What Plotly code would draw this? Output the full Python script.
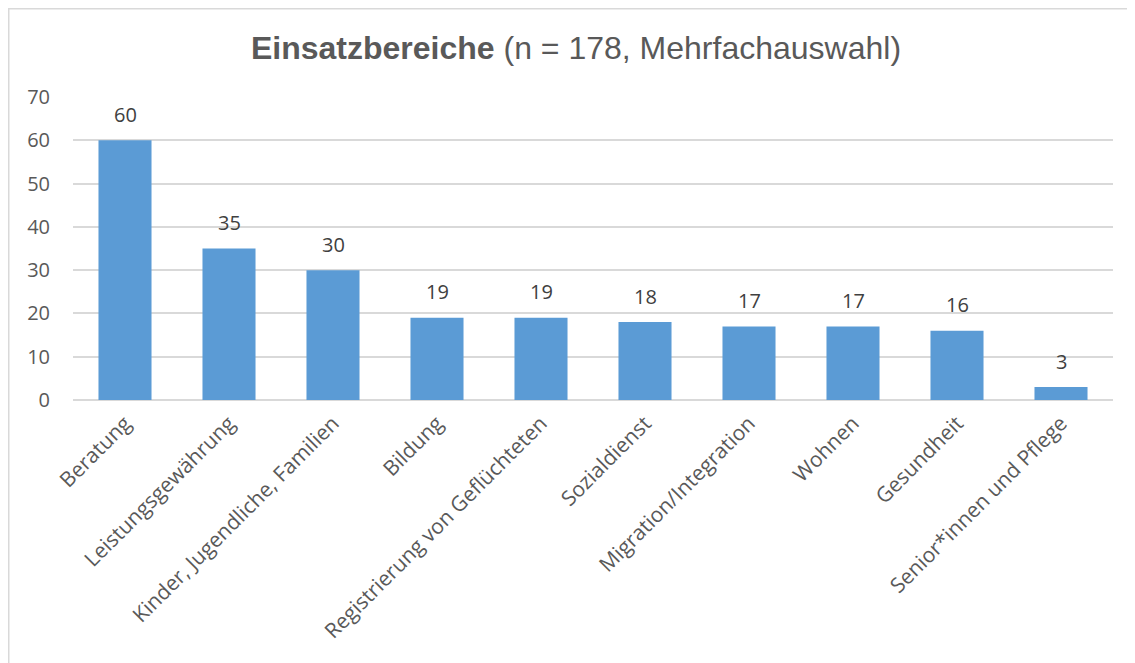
import plotly.graph_objects as go

categories = ["Beratung", "Leistungsgewährung", "Kinder, Jugendliche, Familien", "Bildung",
              "Registrierung von Geflüchteten", "Sozialdienst", "Migration/Integration",
              "Wohnen", "Gesundheit", "Senior*innen und Pflege"]
values = [60, 35, 30, 19, 19, 18, 17, 17, 16, 3]
y_ticks = [0, 10, 20, 30, 40, 50, 60, 70]

# page is rendered with an 8px body margin, so the figure is shifted by 8px
OFF = 8
W, H = 1135 - OFF, 663 - OFF
ml, mr, mt, mb = 73 - OFF, 22, 97 - OFF, 263
pw, ph = W - ml - mr, H - mt - mb

fig = go.Figure()
fig.add_trace(go.Bar(
    x=categories, y=values,
    marker=dict(color="#5B9BD5", line=dict(width=0)),
    width=0.51,
    hoverinfo="x+y",
))

for c, v in zip(categories, values):
    fig.add_annotation(x=c, y=v, text=str(v), showarrow=False,
                       yanchor="middle", yshift=26,
                       font=dict(family="Open Sans", size=20, color="#404040"))

# chart border (top and left visible in the frame)
fig.add_shape(type="rect", xref="paper", yref="paper",
              x0=(0.75 - ml) / pw, x1=(W + 10 - ml) / pw,
              y0=1 - (H + 10 - mt) / ph, y1=1 - (0.75 - mt) / ph,
              line=dict(color="#D9D9D9", width=1.5), fillcolor="rgba(0,0,0,0)", layer="below")

fig.update_layout(
    width=W, height=H,
    margin=dict(l=ml, r=mr, t=mt, b=mb),
    paper_bgcolor="white", plot_bgcolor="white",
    showlegend=False,
    title=dict(
        text="<b>Einsatzbereiche</b> (n = 178, Mehrfachauswahl)",
        font=dict(family="Liberation Sans, Arial", size=32, color="#595959"),
        x=(576 - OFF) / W, xanchor="center", xref="container",
        y=1 - (47.5 - OFF) / H, yanchor="middle", yref="container",
    ),
    xaxis=dict(
        tickangle=-45,
        tickfont=dict(family="Open Sans", size=21, color="#595959"),
        showgrid=False, showline=False, ticks="",
        ticklabelstandoff=6,
    ),
    yaxis=dict(
        range=[0, 70], tickvals=y_ticks,
        tickfont=dict(family="Open Sans", size=20, color="#595959"),
        showgrid=True, gridcolor="#D9D9D9", gridwidth=1.5,
        zeroline=True, zerolinecolor="#D9D9D9", zerolinewidth=1.5,
        showline=False, ticks="",
        ticklabelstandoff=22,
    ),
    bargap=0.49,
)

fig.write_html("out.html")
